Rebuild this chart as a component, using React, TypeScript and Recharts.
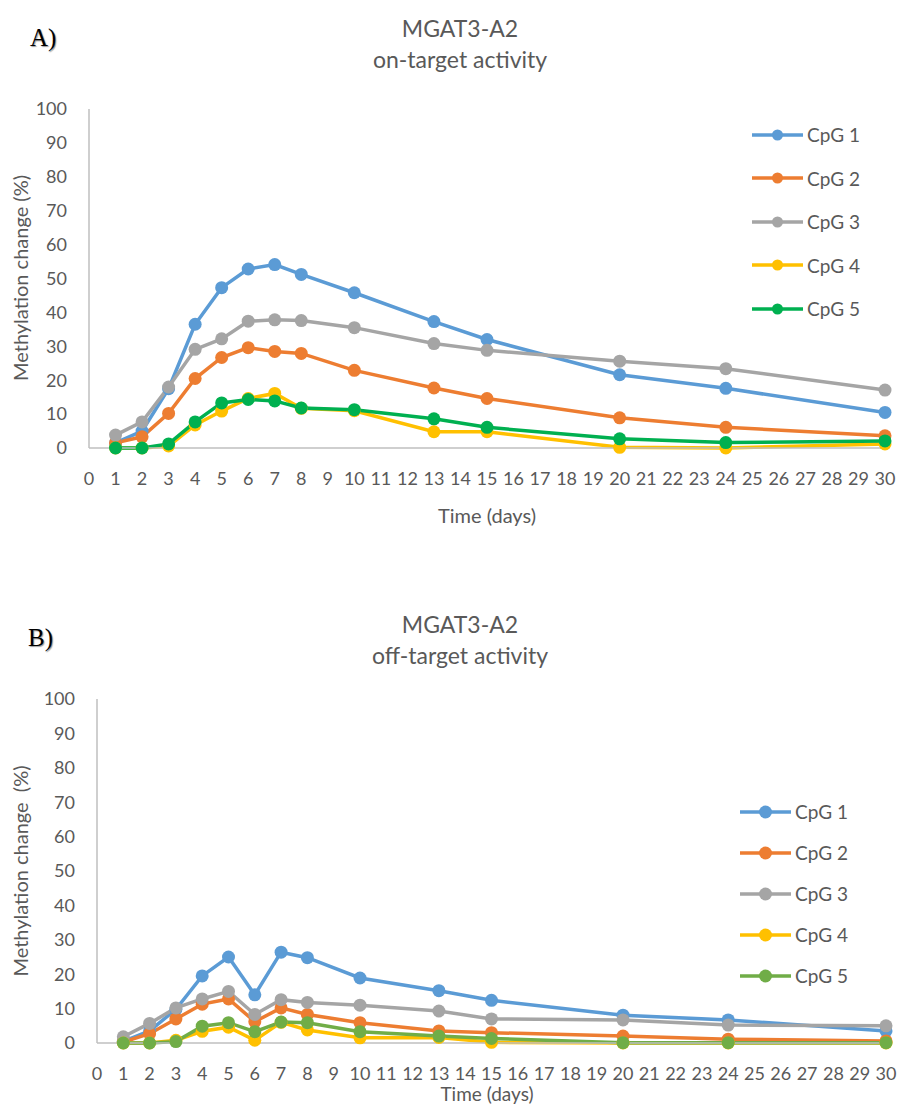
import React from 'react'
import { LineChart, Line, XAxis, YAxis, Legend } from 'recharts'

// days sampled (shared by both panels)
const days = [1, 2, 3, 4, 5, 6, 7, 8, 10, 13, 15, 20, 24, 30]
const seriesNames = ['CpG 1', 'CpG 2', 'CpG 3', 'CpG 4', 'CpG 5']

// A) on-target activity
const onCpg1 = [1.5, 5, 17.5, 36.5, 47.3, 52.8, 54.1, 51.2, 45.8, 37.3, 32, 21.6, 17.6, 10.5]
const onCpg2 = [1.5, 3.3, 10.2, 20.5, 26.7, 29.6, 28.5, 27.9, 22.9, 17.7, 14.6, 8.9, 6.1, 3.6]
const onCpg3 = [3.8, 7.7, 18, 29.1, 32.2, 37.4, 37.8, 37.6, 35.5, 30.8, 28.8, 25.6, 23.4, 17.1]
const onCpg4 = [0, 0, 0.6, 6.8, 10.9, 14.6, 16.1, 11.7, 11, 4.8, 4.8, 0.2, 0, 1.2]
const onCpg5 = [0, 0, 1.2, 7.7, 13.3, 14.3, 13.9, 11.8, 11.3, 8.6, 6.1, 2.7, 1.6, 2.1]

// B) off-target activity
const offCpg1 = [0.5, 3.5, 9.8, 19.5, 25, 14, 26.4, 24.8, 18.9, 15.2, 12.4, 8.1, 6.7, 3.5]
const offCpg2 = [0.3, 2.7, 7, 11.3, 12.8, 6.2, 10.2, 8.3, 5.9, 3.5, 3, 2, 1.1, 0.6]
const offCpg3 = [1.8, 5.7, 10.2, 12.8, 15, 8.3, 12.6, 11.8, 11, 9.3, 7, 6.7, 5.2, 5]
const offCpg4 = [0, 0, 0.8, 3.4, 4.6, 0.8, 6, 3.8, 1.5, 1.6, 0.2, 0, 0, 0]
const offCpg5 = [0, 0, 0.4, 4.9, 5.9, 3.3, 6.1, 5.9, 3.3, 2, 1.3, 0.1, 0.1, 0.1]

const xTicks = Array.from({ length: 31 }, (_, i) => i)
const yTicks = [0, 10, 20, 30, 40, 50, 60, 70, 80, 90, 100]

const colorsA = ['#5B9BD5', '#ED7D31', '#A5A5A5', '#FFC000', '#00B050']
const colorsB = ['#5B9BD5', '#ED7D31', '#A5A5A5', '#FFC000', '#70AD47']

const FONT = 'Lato, "Open Sans", sans-serif'
const TEXT = '#595959'
const AXIS = '#BFBFBF'

const build = (cols: number[][]) =>
    days.map((d, i) => {
        const row: any = { day: d }
        cols.forEach((c, k) => { row['s' + k] = c[i] })
        return row
    })

const dataA = build([onCpg1, onCpg2, onCpg3, onCpg4, onCpg5])
const dataB = build([offCpg1, offCpg2, offCpg3, offCpg4, offCpg5])

function makeLegend(colors: string[], rowH: number, lineW: number, dotR: number) {
    return () => (
        <div>
            {seriesNames.map((n, i) => (
                <div key={n} style={{ height: rowH, display: 'flex', alignItems: 'center' }}>
                    <svg width={lineW} height={16} style={{ marginRight: 4 }}>
                        <line x1={0} y1={8} x2={lineW} y2={8} stroke={colors[i]} strokeWidth={3.5} />
                        <circle cx={lineW / 2} cy={8} r={dotR} fill={colors[i]} />
                    </svg>
                    <span style={{ fontFamily: FONT, fontSize: 19, color: TEXT }}>{n}</span>
                </div>
            ))}
        </div>
    )
}

type PanelProps = {
    data: any[]
    colors: string[]
    width: number
    height: number
    margin: { top: number; right: number; bottom: number; left: number }
    legendPos: { top: number; left: number }
    legendRow: number
    legendLine: number
    legendDot: number
}

function Panel(p: PanelProps) {
    const tick = { fontFamily: FONT, fontSize: 18, fill: TEXT }
    return (
        <LineChart width={p.width} height={p.height} data={p.data} margin={p.margin}>
            <XAxis
                dataKey="day"
                type="number"
                domain={[0, 30]}
                ticks={xTicks}
                interval={0}
                tickLine={false}
                tickSize={0}
                tickMargin={24}
                height={60}
                stroke={AXIS}
                strokeWidth={1.5}
                tick={tick}
            />
            <YAxis
                type="number"
                domain={[0, 100]}
                ticks={yTicks}
                interval={0}
                tickLine={false}
                tickSize={0}
                tickMargin={22}
                width={60}
                stroke={AXIS}
                strokeWidth={1.5}
                tick={tick}
            />
            {/* centered/middle so recharts does not shrink the plot for it */}
            <Legend
                layout="vertical"
                verticalAlign="middle"
                align="center"
                content={makeLegend(p.colors, p.legendRow, p.legendLine, p.legendDot)}
                wrapperStyle={{ top: p.legendPos.top, left: p.legendPos.left, width: 140, margin: 0 }}
            />
            {p.colors.map((c, i) => (
                <Line
                    key={i}
                    dataKey={'s' + i}
                    stroke={c}
                    strokeWidth={3.5}
                    dot={{ r: 6.5, fill: c, stroke: c, strokeWidth: 0 }}
                    activeDot={false}
                    isAnimationActive={false}
                />
            ))}
        </LineChart>
    )
}

const abs = (top: number, left: number, extra: React.CSSProperties = {}): React.CSSProperties => ({
    position: 'absolute', top, left, ...extra,
})

const titleStyle: React.CSSProperties = {
    fontFamily: FONT, fontSize: 23, color: TEXT, width: 400, textAlign: 'center', lineHeight: '31px',
}
const panelLetter: React.CSSProperties = {
    fontFamily: '"Liberation Serif", serif', fontSize: 25, color: '#000', textShadow: '1px 1px 1px #999',
}
const axisTitle: React.CSSProperties = { fontFamily: FONT, fontSize: 20, color: TEXT, whiteSpace: 'pre' }

export default function App() {
    return (
        <div style={{ position: 'absolute', left: 0, top: 0, width: 899, height: 1106, background: '#fff', overflow: 'hidden' }}>
            {/* panel A */}
            <div style={abs(0, 0)}>
                <Panel
                    data={dataA}
                    colors={colorsA}
                    width={899}
                    height={560}
                    margin={{ top: 109, right: 14, bottom: 52, left: 29 }}
                    legendPos={{ top: 113, left: 752 }}
                    legendRow={43.5}
                    legendLine={51}
                    legendDot={5.5}
                />
            </div>
            <div style={abs(13, 260, titleStyle)}>MGAT3-A2<br />on-target activity</div>
            <div style={abs(24, 30, panelLetter)}>A)</div>
            <div style={abs(278, 20, { ...axisTitle, transform: 'translate(-50%, -50%) rotate(-90deg)' })}>
                Methylation change (%)
            </div>
            <div style={abs(515, 487, { ...axisTitle, transform: 'translate(-50%, -50%)' })}>Time (days)</div>

            {/* panel B */}
            <div style={abs(580, 0)}>
                <Panel
                    data={dataB}
                    colors={colorsB}
                    width={899}
                    height={526}
                    margin={{ top: 119, right: 13, bottom: 3, left: 37 }}
                    legendPos={{ top: 211, left: 740 }}
                    legendRow={41}
                    legendLine={51}
                    legendDot={6.5}
                />
            </div>
            <div style={abs(609, 260, titleStyle)}>MGAT3-A2<br />off-target activity</div>
            <div style={abs(624, 28, panelLetter)}>B)</div>
            <div style={abs(871, 20, { ...axisTitle, transform: 'translate(-50%, -50%) rotate(-90deg)' })}>
                Methylation change  (%)
            </div>
            <div style={abs(1083, 487, { ...axisTitle, fontSize: 19, transform: 'translateX(-50%)', lineHeight: '21px' })}>Time (days)</div>
        </div>
    )
}
